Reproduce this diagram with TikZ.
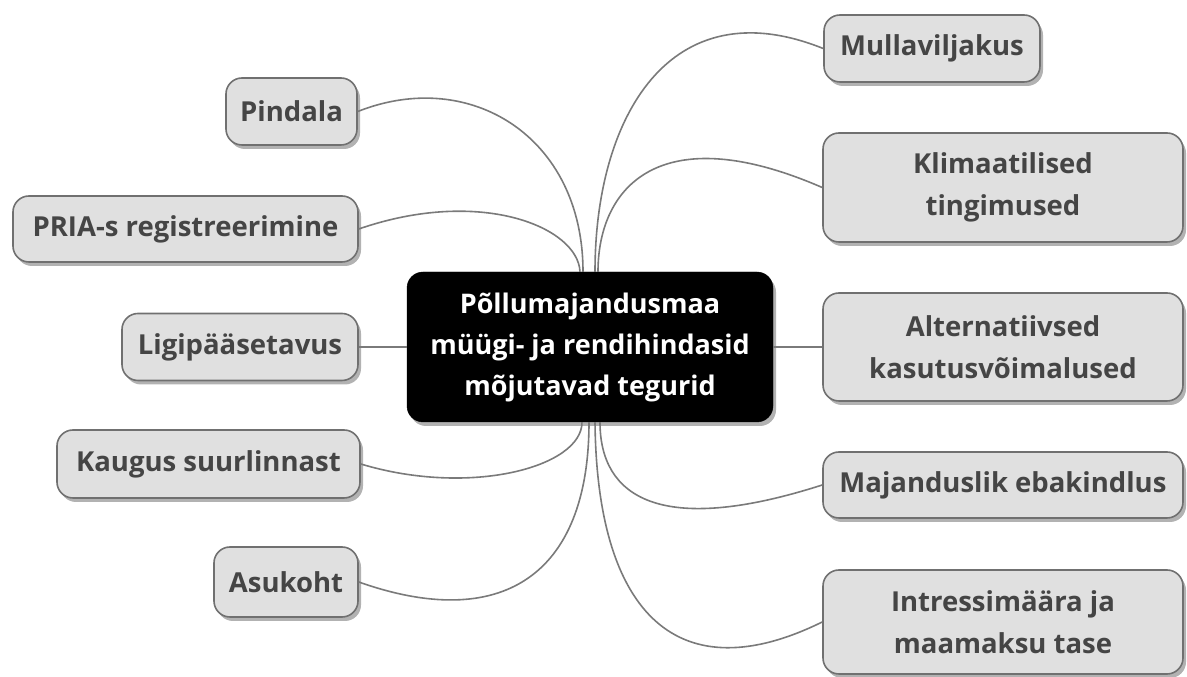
\documentclass[tikz,border=0pt]{standalone}
\usepackage{fontspec}
\setmainfont{Open Sans}
\usepackage{xcolor}
\usetikzlibrary{shadows}
\definecolor{boxfill}{HTML}{E0E0E0}
\definecolor{boxline}{HTML}{707070}
\definecolor{labeltext}{HTML}{454545}
\definecolor{linkgray}{HTML}{7A7A7A}

\begin{document}
\begin{tikzpicture}[x=1pt, y=1pt,
  factor/.style={draw=boxline, line width=1.6pt, fill=boxfill, rounded corners=16pt, text=labeltext, font=\bfseries\fontsize{27.5}{42}\selectfont, align=center, inner sep=0pt, drop shadow={shadow xshift=3pt, shadow yshift=-4pt, fill=black, opacity=0.3}},
  hub/.style={draw=black, fill=black, rounded corners=16pt, text=white, font=\bfseries\fontsize{27}{41}\selectfont, align=center, inner sep=0pt, minimum width=366pt, minimum height=150pt, drop shadow={shadow xshift=3pt, shadow yshift=-4pt, fill=black, opacity=0.3}},
  link/.style={draw=linkgray, line width=1.6pt}]
  \useasboundingbox (0,0) rectangle (1187,677);
  \node[hub] (hub) at (590,330) {Põllumajandusmaa\\müügi- ja rendihindasid\\mõjutavad tegurid};
  \node[factor, minimum width=131pt, minimum height=67pt] (pindala) at (291.5,565.5) {Pindala};
  \node[factor, minimum width=345pt, minimum height=66pt] (pria) at (185.5,448) {PRIA-s registreerimine};
  \node[factor, minimum width=236pt, minimum height=67pt] (ligi) at (240,330) {Ligipääsetavus};
  \node[factor, minimum width=303pt, minimum height=68pt] (kaugus) at (208.5,213) {Kaugus suurlinnast};
  \node[factor, minimum width=144pt, minimum height=70pt] (asukoht) at (286,95) {Asukoht};
  \node[factor, minimum width=216pt, minimum height=67pt] (mull) at (932,628.5) {Mullaviljakus};
  \node[factor, minimum width=360pt, minimum height=109pt] (klim) at (1003,489.5) {Klimaatilised\\tingimused};
  \node[factor, minimum width=360pt, minimum height=108pt] (alt) at (1003,330) {Alternatiivsed\\kasutusvõimalused};
  \node[factor, minimum width=360pt, minimum height=66pt] (maj) at (1003,192) {Majanduslik ebakindlus};
  \node[factor, minimum width=360pt, minimum height=104pt] (intr) at (1003,55) {Intressimäära ja\\maamaksu tase};
  \draw[link] ([xshift=-7pt]hub.north) .. controls +(0,135) and (470,610) .. (pindala.east);
  \draw[link] ([xshift=-10pt]hub.north) .. controls +(-2,45) and (480,490) .. (pria.east);
  \draw[link] (hub.west) -- (ligi.east);
  \draw[link] ([xshift=-8pt]hub.south) .. controls +(0,-45) and (470,180) .. (kaugus.east);
  \draw[link] ([xshift=-1pt]hub.south) .. controls +(0,-155) and (500,45) .. (asukoht.east);
  \draw[link] ([xshift=5pt]hub.north) .. controls +(0,155) and (670,690) .. (mull.west);
  \draw[link] ([xshift=8pt]hub.north) .. controls +(0,85) and (660,560) .. (klim.west);
  \draw[link] (hub.east) -- (alt.west);
  \draw[link] ([xshift=10pt]hub.south) .. controls +(0,-75) and (660,140) .. (maj.west);
  \draw[link] ([xshift=5pt]hub.south) .. controls +(2,-195) and (680,-15) .. (intr.west);
\end{tikzpicture}
\end{document}
